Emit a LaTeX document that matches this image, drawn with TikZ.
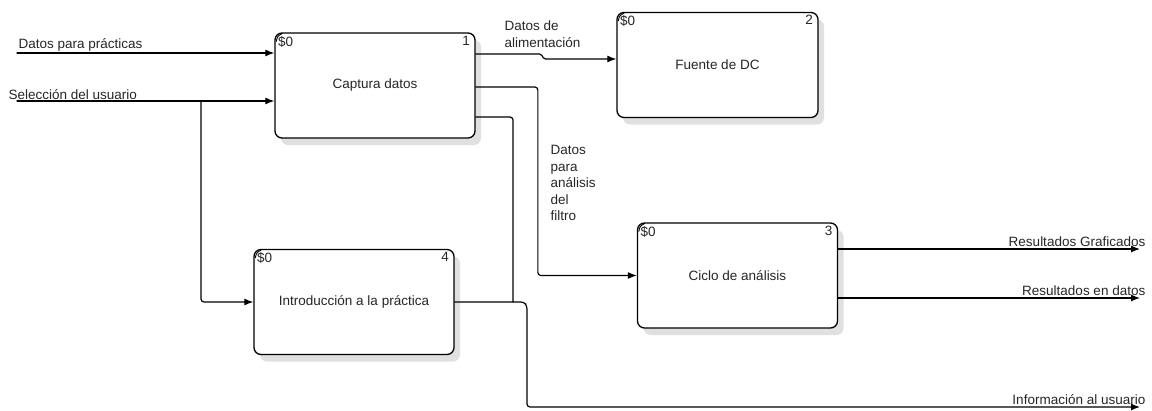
\documentclass[tikz,border=0pt]{standalone}
\usepackage{fontspec}
\setmainfont{Liberation Sans}
\usetikzlibrary{arrows.meta,shadows}

\begin{document}
\begin{tikzpicture}[x=1pt, y=-1pt, line join=round, line cap=round,
    font=\fontsize{13.5}{16.5}\selectfont, text=black!85,
    >={Latex[length=9pt,width=7pt]},
    funcbox/.style={draw, line width=1.3pt, rounded corners=7pt, fill=white,
      minimum width=200pt, minimum height=105pt, inner sep=0pt,
      drop shadow={shadow xshift=6pt, shadow yshift=-7pt, fill=black!12, opacity=1}},
    flow/.style={->, line width=1.2pt, rounded corners=3pt},
    tag/.style={inner sep=1.5pt},
    cost/.style={tag, anchor=north west, xshift=2pt, yshift=-2pt},
    num/.style={tag, anchor=north east, xshift=-4pt, yshift=-2pt}]
	\useasboundingbox (0,0) rectangle (1152,410);
	% Activity boxes
	\node[funcbox, label={[cost]north west:\$0}, label={[num]north east:1}] (captura) at (375,85.5) {Captura datos};
	\node[funcbox, minimum width=201pt, label={[cost]north west:\$0}, label={[num]north east:2}] (fuente) at (717.5,65) {Fuente de DC};
	\node[funcbox, label={[cost]north west:\$0}, label={[num]north east:3}] (ciclo) at (737.5,275.5) {Ciclo de análisis};
	\node[funcbox, label={[cost]north west:\$0}, label={[num]north east:4}] (intro) at (354,302) {Introducción a la práctica};
	% Small hooks at the top left corners
	\foreach \b in {captura,fuente,ciclo,intro}
		\draw[line width=0.9pt] ([shift={(2,9)}]\b.north west) .. controls ([shift={(3,4)}]\b.north west) .. ([shift={(8,1)}]\b.north west);
	% Inputs from the left
	\coordinate (pract) at (17,53);
	\coordinate (selec) at (17,101);
	\coordinate (split) at (201,101);
	\draw[flow] (pract) -- (captura.west |- pract);
	\draw[flow] (selec) -- (captura.west |- selec);
	\draw[flow] (split) |- (intro.west);
	\node[tag, anchor=south west] (lpract) at (pract) {Datos para prácticas};
	\node[tag, anchor=south west] (lselec) at (7,101) {Selección del usuario};
	% Captura datos to Fuente de DC
	\draw[flow, rounded corners=1.5pt] (captura.east |- 0,54) -- (541,54) -- (544,59) -- (fuente.west |- 0,59);
	\node[tag, anchor=south west, align=left] (lalim) at (503,49) {Datos de\\alimentación};
	% Captura datos to Ciclo de analisis
	\draw[flow] (captura.east |- 0,87) -| ([xshift=-99pt]ciclo.west) -- (ciclo.west);
	\node[tag, anchor=north west, align=left] (lfiltro) at (549,144) {Datos\\para\\análisis\\del\\filtro};
	% Information back to the user
	\draw[line width=1.2pt, rounded corners=3pt] (captura.east |- 0,117) -| (513,302);
	\coordinate (infoEnd) at (1140,407);
	\draw[flow] (intro.east) -- (524,302) -- (527,306) |- (infoEnd);
	\node[tag, anchor=south east] (linfo) at (1147,406) {Información al usuario};
	% Outputs of Ciclo de analisis
	\coordinate (grafEnd) at (1140,249);
	\coordinate (datEnd) at (1140,298);
	\draw[flow] (ciclo.east |- grafEnd) -- (grafEnd);
	\draw[flow] (ciclo.east |- datEnd) -- (datEnd);
	\node[tag, anchor=south east] (lgraf) at (1147,248) {Resultados Graficados};
	\node[tag, anchor=south east] (ldat) at (1147,297) {Resultados en datos};
\end{tikzpicture}
\end{document}
